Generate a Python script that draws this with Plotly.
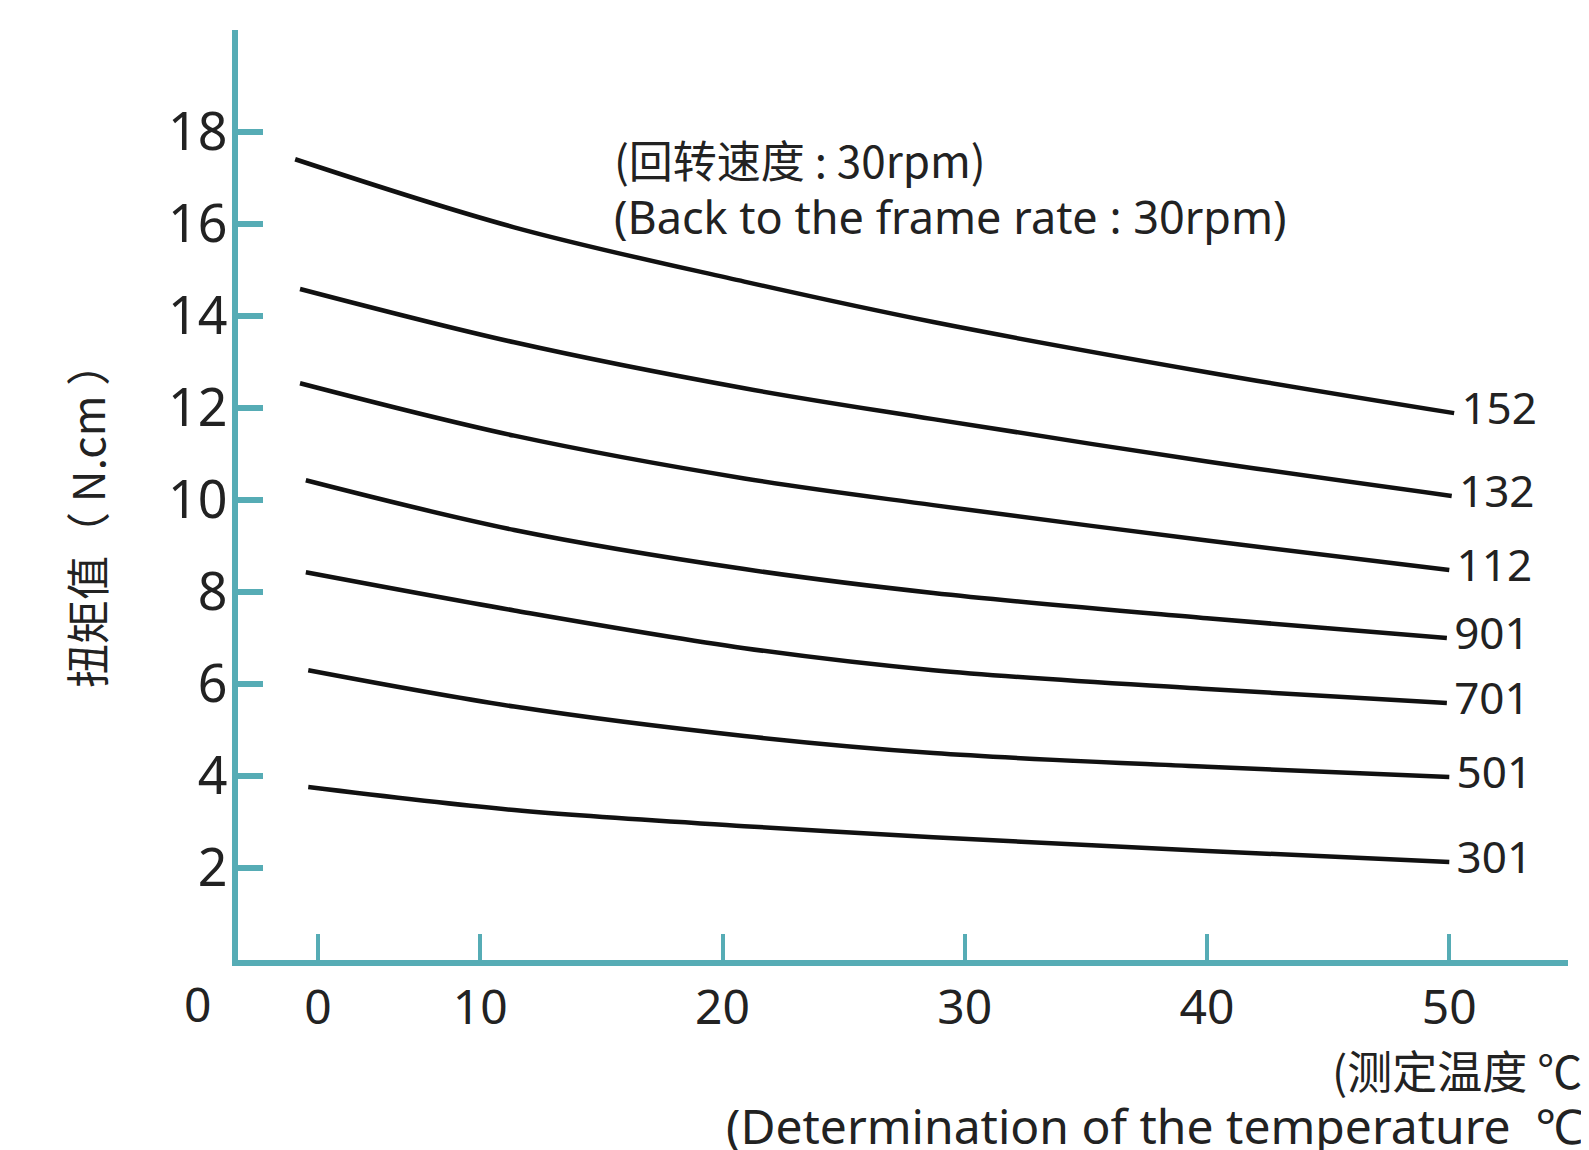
import plotly.graph_objects as go

# ---- data (temperature in axis units, torque N.cm) ----
series_names = ["152", "132", "112", "901", "701", "501", "301"]

x_152 = [2.36, 11.4, 20.9, 28.7, 40, 50.2]
y_152 = [17.41, 15.93, 14.75, 13.87, 12.78, 11.89]

x_132 = [2.56, 11.4, 20.9, 28.7, 40, 50.1]
y_132 = [14.59, 13.43, 12.43, 11.76, 10.84, 10.09]

x_112 = [2.56, 11.4, 20.9, 28.7, 40, 50.0]
y_112 = [12.54, 11.4, 10.47, 9.89, 9.12, 8.48]

x_901 = [2.8, 11.4, 20.9, 28.7, 40, 49.9]
y_901 = [10.43, 9.35, 8.5, 7.98, 7.43, 7.0]

x_701 = [2.8, 11.4, 20.9, 28.7, 40, 49.9]
y_701 = [8.43, 7.6, 6.78, 6.3, 5.89, 5.59]

x_501 = [2.9, 11.4, 20.9, 28.7, 40, 50.0]
y_501 = [6.3, 5.51, 4.87, 4.5, 4.2, 3.98]

x_301 = [2.9, 11.4, 20.9, 28.7, 40, 50.0]
y_301 = [3.76, 3.26, 2.91, 2.67, 2.37, 2.13]

xtick_vals = [3.3, 10, 20, 30, 40, 50]
xtick_text = ["0", "10", "20", "30", "40", "50"]
ytick_vals = [2, 4, 6, 8, 10, 12, 14, 16, 18]

xs = [x_152, x_132, x_112, x_901, x_701, x_501, x_301]
ys = [y_152, y_132, y_112, y_901, y_701, y_501, y_301]

OFF = 8                      # default page body margin
W, H = 1589 - OFF, 1150 - OFF
AXIS = "#56acb5"
TXT = "#222222"
FONT = "Noto Sans, Noto Sans CJK SC, sans-serif"
CJK = "Noto Sans CJK SC, Noto Sans, sans-serif"


def px(x):
    return (x - OFF) / W


def py(y):
    return 1 - (y - OFF) / H


fig = go.Figure()
for name, xv, yv in zip(series_names, xs, ys):
    labels = [""] * (len(xv) - 1) + ["\u2009" + name]
    fig.add_trace(go.Scatter(
        x=xv, y=yv, mode="lines+text", text=labels,
        textposition="middle right",
        textfont=dict(family=FONT, size=44, color=TXT),
        line=dict(color="#111111", width=4.5, shape="spline", smoothing=1.0),
        showlegend=False, hoverinfo="skip", cliponaxis=False,
    ))

fig.update_layout(
    width=W, height=H, autosize=False,
    margin=dict(l=0, r=0, t=0, b=0, pad=0),
    paper_bgcolor="white", plot_bgcolor="white",
    xaxis=dict(
        domain=[px(238), px(1568)], range=[0, 54.9],
        showgrid=False, zeroline=False,
        showline=True, linecolor=AXIS, linewidth=6,
        ticks="inside", ticklen=26, tickwidth=4, tickcolor=AXIS,
        tickvals=xtick_vals, ticktext=xtick_text,
        tickfont=dict(family=FONT, size=48, color=TXT),
        ticklabelstandoff=0,
    ),
    yaxis=dict(
        domain=[py(960), py(30)], range=[0, 20.22],
        showgrid=False, zeroline=False,
        showline=True, linecolor=AXIS, linewidth=6,
        ticks="inside", ticklen=25, tickwidth=6, tickcolor=AXIS,
        tickvals=ytick_vals,
        tickfont=dict(family=FONT, size=52, color=TXT),
        ticklabelstandoff=-6,
    ),
    annotations=[
        dict(text="(回转速度 : 30rpm)", x=px(612), y=py(159),
             xref="paper", yref="paper", xanchor="left", yanchor="middle",
             showarrow=False, font=dict(family=CJK, size=44, color=TXT)),
        dict(text="(Back to the frame rate : 30rpm)", x=px(612), y=py(216),
             xref="paper", yref="paper", xanchor="left", yanchor="middle",
             showarrow=False, font=dict(family=FONT, size=45, color=TXT)),
        dict(text="扭矩值（ N.cm ）", x=px(86), y=py(515), textangle=-90,
             xref="paper", yref="paper", xanchor="center", yanchor="middle",
             showarrow=False, font=dict(family=CJK, size=44, color=TXT)),
        dict(text="0", x=px(197), y=py(1003),
             xref="paper", yref="paper", xanchor="center", yanchor="middle",
             showarrow=False, font=dict(family=FONT, size=48, color=TXT)),
        dict(text="(测定温度 ℃)", x=px(1600), y=py(1069),
             xref="paper", yref="paper", xanchor="right", yanchor="middle",
             showarrow=False, font=dict(family=CJK, size=45, color=TXT)),
        dict(text="(Determination of the temperature  ℃)", x=px(1600), y=py(1125),
             xref="paper", yref="paper", xanchor="right", yanchor="middle",
             showarrow=False, font=dict(family=FONT, size=48, color=TXT)),
    ],
)

fig.write_html("out.html")
